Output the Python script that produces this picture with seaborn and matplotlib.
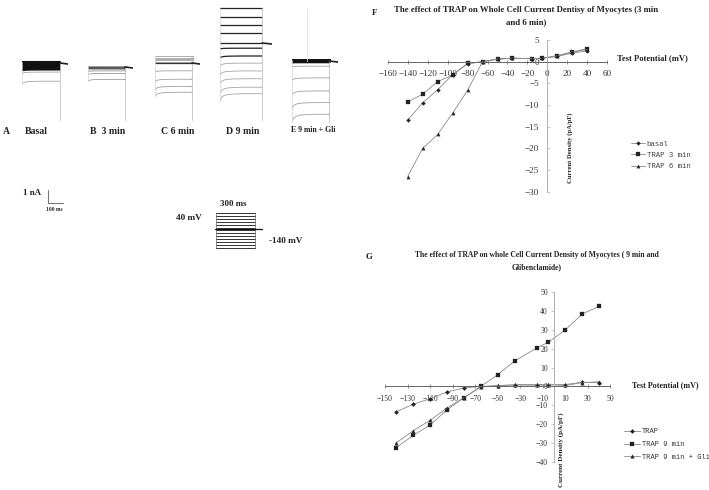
import numpy as np
import matplotlib
matplotlib.use('Agg')
import matplotlib.pyplot as plt
import seaborn as sns

# test potentials (mV)
volts = [-140, -125, -110, -95, -80, -65, -50, -35, -15, -5, 10, 25, 40]

# panel F
f_basal = [-13.5, -9.5, -6.5, -3.0, -0.5, 0, 0.6, 0.8, 0.7, 0.8, 1.2, 2.0, 2.5]
f_trap3 = [-9.3, -7.5, -4.6, -3.1, -0.4, 0, 0.6, 0.8, 0.7, 0.8, 1.4, 2.3, 3.0]
f_trap6 = [-26.5, -20.0, -16.8, -11.9, -6.6, 0, 0.6, 0.8, 0.7, 0.8, 1.3, 2.2, 2.8]
f_names = ['basal', 'TRAP 3 min', 'TRAP 6 min']

# panel G
g_trap = [-13.5, -9.5, -6.5, -3.0, -0.8, 0, 0.4, 0.8, 0.7, 0.8, 1.0, 2.2, 2.0]
g_trap9 = [-32.5, -26.0, -20.5, -12.5, -6.0, 0, 6.2, 13.5, 20.5, 23.5, 30.0, 38.5, 42.5]
g_gli = [-30.0, -23.5, -18.0, -11.5, -6.0, -0.3, 0.4, 0.9, 1.0, 1.0, 0.5, 2.0, 2.5]
g_names = ['TRAP', 'TRAP 9 min', 'TRAP 9 min + Gli']

# current traces (nA), time in ms
sag_t = [0, 5, 10, 20, 35, 60, 100, 150, 250]
sag = [1, 0.75, 0.55, 0.35, 0.2, 0.1, 0.04, 0, 0]
a_dark = [0.1, 0, -0.1, -0.2, -0.3, -0.4, -0.5]
a_light = [-0.7, -1.4]
b_dark = [0, -0.1]
b_light = [0.1, -0.2, -0.3, -0.5, -0.95]
c_dark = [0]
c_light = [0.5, 0.4, 0.3, 0.2, 0.1, -0.6, -1.25, -1.8, -2.25]
d_dark = [2.7, 2.0, 1.4, 0.8, 0, -0.4, -1.0]
d_light = [-1.55, -2.15, -2.75, -3.4, -3.9]
e_dark = [0.1, 0, -0.1]
e_light = [-0.4, -1.3, -2.3, -3.2, -4.1]

# voltage protocol (mV)
steps = [-140, -125, -110, -95, -80, -65, -50, -35, -20, -5, 10, 25, 40]
hold = -40

W, H = 709, 490
sns.set_theme(style='white')
plt.rcParams['font.family'] = ['Liberation Serif', 'DejaVu Sans']

fig = plt.figure(figsize=(7.09, 4.90), dpi=100)


def px_axes(x0, y0, x1, y1):
    a = fig.add_axes([x0 / W, 1 - y1 / H, (x1 - x0) / W, (y1 - y0) / H])
    a.patch.set_alpha(0)
    return a


bg = px_axes(0, 0, W, H)
bg.set_xlim(0, W)
bg.set_ylim(H, 0)
bg.axis('off')


def label(x, y, s, size=6, ha='left', **kw):
    kw.setdefault('fontweight', 'bold')
    kw.setdefault('color', '#222222')
    bg.text(x, y, s, fontsize=size, ha=ha, va='center', **kw)


def traces(left, right, base, bottom, dark, light, dark_c, light_c, tail, dark_lw=0.9):
    # 0.15 px per ms, 13 px per nA
    ms = (right - left) / 0.15
    ax = px_axes(left, 0, tail, 130)
    ax.set_xlim(0, (tail - left) / 0.15)
    ax.set_ylim(base / 13 - 130 / 13, base / 13)
    ax.axis('off')
    t = np.array(sag_t + [ms])
    s = np.array(sag + [0])
    for lev in light:
        ax.plot(t, lev + s * min(lev, 0) * 0.14, color=light_c, lw=0.6)
    for lev in dark:
        ax.plot(t, lev + s * min(lev, 0) * 0.14, color=dark_c, lw=dark_lw)
    ax.plot([ms, ms], [(base - bottom) / 13, max(dark + light)], color='#c0c0c0', lw=0.6)
    ax.plot([0, 0], [min(dark + light) * 1.14, max(dark + light)], color='#d5d5d5', lw=0.5)
    ax.plot([ms, (tail - left) / 0.15], [0, -0.08], color='#222222', lw=1.2)
    return ax


traces(22, 60, 63, 120, a_dark, a_light, '#111111', '#a5a5a5', 68, 1.5)
traces(88, 125, 67, 120, b_dark, b_light, '#555555', '#999999', 133)
traces(155, 192, 63, 120, c_dark, c_light, '#333333', '#a0a0a0', 200)
traces(220, 262, 43, 120, d_dark, d_light, '#222222', '#a5a5a5', 272)
e = traces(292, 329, 61, 122, e_dark, e_light, '#111111', '#a0a0a0', 338, 1.4)
e.plot([100, 100], [0, 4], color='#dddddd', lw=0.6)

label(3, 131, 'A', 7)
label(25, 131, 'Basal', 7)
label(90, 131, 'B  3 min', 7)
label(161, 131, 'C 6 min', 7)
label(226, 131, 'D 9 min', 7)
label(291, 130, 'E 9 min + Gli', 5.6)

# scale bar
bg.plot([47.5, 47.5, 63], [190, 203, 203], color='#777777', lw=0.8)
label(23, 193, '1 nA', 6.4)
label(46, 209, '100 ms', 4)

# protocol
p = px_axes(216, 213, 262, 248)
p.set_xlim(0, 46 / 39 * 300)
p.set_ylim(-140, 40)
p.axis('off')
for v in steps:
    p.plot([0, 300], [v, v], color='#333333', lw=0.7, clip_on=False)
p.plot([0, 0], [-140, 40], color='#666666', lw=0.5)
p.plot([300, 300], [-140, 40], color='#666666', lw=0.5)
p.plot([-8, 354], [hold, hold], color='#111111', lw=0.9, clip_on=False)
label(233, 204, '300 ms', 6.4, ha='center')
label(176, 218, '40 mV', 6.6)
label(269, 241, '-140 mV', 6.6)


def iv_axes(rect, xlim, ylim, xticks, yticks, tick_size, series, names, markers, ms):
    ax = px_axes(*rect)
    for vals, name, mk, sz in zip(series, names, markers, ms):
        sns.lineplot(x=volts, y=vals, ax=ax, color='#8a8a8a', lw=0.6, marker=mk,
                     markersize=sz, markerfacecolor='#222222', markeredgecolor='#222222',
                     markeredgewidth=0.2, label=name, legend=False, clip_on=False)
    ax.set_xlim(*xlim)
    ax.set_ylim(*ylim)
    ax.set_xticks(xticks)
    ax.set_yticks(yticks)
    ax.spines['top'].set_visible(False)
    ax.spines['right'].set_visible(False)
    ax.spines['left'].set_position(('data', 0))
    ax.spines['bottom'].set_position(('data', 0))
    ax.spines['left'].set_color('#b5b5b5')
    ax.spines['bottom'].set_color('#666666')
    ax.spines['left'].set_linewidth(0.8)
    ax.spines['bottom'].set_linewidth(0.7)
    ax.tick_params(axis='x', length=2.5, width=0.5, direction='inout', color='#666666',
                   labelsize=tick_size, labelcolor='#333333', pad=5, bottom=True)
    ax.tick_params(axis='y', length=2.5, width=0.5, direction='out', color='#b5b5b5',
                   labelsize=tick_size, labelcolor='#333333', pad=2, left=True)
    return ax


f = iv_axes((387.7, 40, 607.3, 191.7), (-160, 60), (-30, 5),
            np.arange(-160, 61, 20), np.arange(-30, 6, 5), 6.6,
            [f_basal, f_trap3, f_trap6], f_names, ['D', 's', '^'], [2.0, 2.2, 2.4])
f.tick_params(axis='y', direction='in', pad=6)
h, l = f.get_legend_handles_labels()
f.legend(h, l, loc='upper left', bbox_to_anchor=(627 - 387.7, 191.7 - 137), frameon=False,
         bbox_transform=matplotlib.transforms.Affine2D().translate(387.7, H - 191.7),
         prop={'family': 'Liberation Mono', 'size': 5.3}, handlelength=1.9, handletextpad=0.3,
         labelspacing=0.55, borderpad=0, labelcolor='#444444')

g = iv_axes((385, 292.3, 610.4, 461.7), (-150, 50), (-40, 50),
            np.arange(-150, 51, 20), np.arange(-40, 51, 10), 5.6,
            [g_trap, g_trap9, g_gli], g_names, ['D', 's', '^'], [2.2, 2.8, 2.6])
g.fill_between(volts[5:11], g_trap[5:11], g_gli[5:11], color='#cccccc', lw=0)
h, l = g.get_legend_handles_labels()
g.legend(h, l, loc='upper left', bbox_to_anchor=(621 - 385, 461.7 - 425), frameon=False,
         bbox_transform=matplotlib.transforms.Affine2D().translate(385, H - 461.7),
         prop={'family': 'Liberation Mono', 'size': 5.0}, handlelength=2.2, handletextpad=0.3,
         labelspacing=0.8, borderpad=0, labelcolor='#333333')

label(372, 13, 'F', 6.4)
label(526, 10, 'The effect of TRAP on Whole Cell Current Dentisy of Myocytes (3 min', 6.3, ha='center')
label(526, 22, 'and 6 min)', 6.3, ha='center')
label(617, 58, 'Test Potential (mV)', 6.1)
label(570, 148, 'Current Density (pA/pF)', 4.8, ha='center', rotation=90)

label(366, 257, 'G', 6.4)
label(537, 255, 'The effect of TRAP on whole Cell Current Density of Myocytes ( 9 min and', 5.5, ha='center')
label(537, 267, 'Glibenclamide)', 5.5, ha='center')
label(632, 385, 'Test Potential (mV)', 5.8)
label(561, 450, 'Current Density (pA/pF)', 5.0, ha='center', rotation=90)

fig.savefig('out.png', dpi=100)
